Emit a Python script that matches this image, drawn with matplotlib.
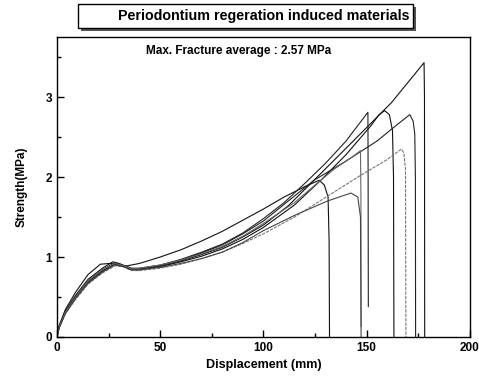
import matplotlib
matplotlib.use("Agg")
import matplotlib.pyplot as plt
from matplotlib.patches import Rectangle
from matplotlib.ticker import MultipleLocator

plt.rcParams['font.family'] = ['Liberation Sans', 'DejaVu Sans']

# ---- data ----
h_x = [0, 1, 4, 9, 15, 21, 26, 32, 40, 50, 60, 70, 80, 90, 100, 110, 120, 127, 129.5, 131.3, 131.8, 132]
h_y = [0, 0.14, 0.34, 0.56, 0.78, 0.91, 0.92, 0.88, 0.92, 1.00, 1.09, 1.20, 1.32, 1.46, 1.60, 1.75, 1.88, 1.96, 1.90, 1.75, 1.2, 0]

a_x = [0, 1, 4, 9, 15, 22, 27, 30, 35, 40, 50, 60, 70, 80, 90, 100, 112, 124.5, 140, 162, 177.8, 178, 178.1]
a_y = [0, 0.13, 0.32, 0.52, 0.72, 0.86, 0.94, 0.92, 0.85, 0.85, 0.89, 0.95, 1.03, 1.12, 1.25, 1.40, 1.64, 1.96, 2.36, 2.93, 3.43, 3.0, 0]

b_x = [0, 1, 4, 9, 15, 22, 28, 31, 36, 40, 50, 60, 70, 80, 90, 100, 110, 120, 130, 140, 150.6, 150.7, 150.8]
b_y = [0, 0.12, 0.31, 0.51, 0.70, 0.84, 0.93, 0.91, 0.86, 0.86, 0.90, 0.97, 1.06, 1.16, 1.30, 1.48, 1.68, 1.92, 2.17, 2.45, 2.81, 2.0, 0.38]

c_x = [0, 1, 4, 9, 15, 22, 28, 31, 36, 40, 50, 60, 70, 80, 90, 100, 115, 127.8, 140, 152, 156, 158.7, 161, 162.5, 163, 163.2]
c_y = [0, 0.12, 0.30, 0.50, 0.69, 0.83, 0.92, 0.90, 0.84, 0.84, 0.88, 0.94, 1.01, 1.10, 1.22, 1.37, 1.65, 1.96, 2.28, 2.64, 2.78, 2.83, 2.78, 2.58, 2.0, 0]

d_x = [0, 1, 4, 9, 15, 22, 28, 31, 36, 40, 50, 60, 70, 80, 90, 100, 112, 124.5, 140, 155, 165, 170.9, 172.5, 173.3, 173.6, 173.7]
d_y = [0, 0.12, 0.30, 0.49, 0.68, 0.82, 0.91, 0.90, 0.85, 0.85, 0.89, 0.96, 1.05, 1.15, 1.29, 1.45, 1.70, 1.96, 2.20, 2.45, 2.66, 2.78, 2.70, 2.54, 2.0, 0]

e_x = [0, 1, 4, 9, 15, 22, 28, 32, 36, 40, 50, 60, 70, 80, 90, 100, 115, 131, 147, 160, 166.8, 168, 168.8, 169]
e_y = [0, 0.11, 0.29, 0.47, 0.66, 0.80, 0.89, 0.88, 0.83, 0.83, 0.86, 0.91, 0.98, 1.06, 1.17, 1.29, 1.50, 1.76, 2.02, 2.22, 2.35, 2.30, 2.1, 0]

f_x = [0, 1, 4, 9, 15, 22, 28, 31, 36, 40, 50, 60, 70, 80, 90, 100, 115, 125, 134.3, 142.4, 147, 147.2, 147.3]
f_y = [0, 0.12, 0.31, 0.50, 0.70, 0.84, 0.92, 0.90, 0.85, 0.86, 0.90, 0.96, 1.04, 1.13, 1.26, 1.42, 1.68, 1.90, 2.10, 2.24, 2.33, 1.8, 0.13]

g_x = [0, 1, 4, 9, 15, 22, 28, 32, 36, 40, 50, 60, 70, 80, 90, 100, 115, 131, 142.4, 145.7, 147, 147.3]
g_y = [0, 0.11, 0.29, 0.48, 0.67, 0.81, 0.90, 0.88, 0.84, 0.84, 0.87, 0.92, 0.98, 1.06, 1.18, 1.33, 1.52, 1.70, 1.80, 1.75, 1.5, 0]

x_ticks = [0, 50, 100, 150, 200]
y_ticks = [0, 1, 2, 3]

title_text = "Periodontium regeration induced materials"
note_text = "Max. Fracture average : 2.57 MPa"

# ---- figure ----
fig = plt.figure(figsize=(4.79, 3.85), dpi=100)
ax = fig.add_axes([0.119, 0.1247, 0.862, 0.779])

series = [
    (h_x, h_y, '#111111', '-'),
    (a_x, a_y, '#111111', '-'),
    (b_x, b_y, '#222222', '-'),
    (c_x, c_y, '#111111', '-'),
    (d_x, d_y, '#222222', '-'),
    (e_x, e_y, '#777777', (0, (3, 1))),
    (f_x, f_y, '#666666', '-'),
    (g_x, g_y, '#444444', '-'),
]
for xs, ys, col, ls in series:
    ax.plot(xs, ys, color=col, lw=0.8, ls=ls)

ax.set_xlim(0, 200)
ax.set_ylim(0, 3.75)
ax.set_xticks(x_ticks)
ax.set_yticks(y_ticks)
ax.xaxis.set_minor_locator(MultipleLocator(25))
ax.yaxis.set_minor_locator(MultipleLocator(0.5))
ax.tick_params(which='both', direction='in', top=False, right=False, width=1)
ax.tick_params(which='major', length=5, labelsize=8.5)
ax.tick_params(which='minor', length=3)
for lab in ax.get_xticklabels() + ax.get_yticklabels():
    lab.set_fontweight('bold')
for sp in ax.spines.values():
    sp.set_linewidth(1.0)
    sp.set_color('black')

ax.set_xlabel("Displacement (mm)", fontsize=9, fontweight='bold', labelpad=4)
ax.set_ylabel("Strength(MPa)", fontsize=8.5, fontweight='bold', labelpad=13)

ax.text(0.44, 0.955, note_text, transform=ax.transAxes, ha='center', va='center',
        fontsize=8.5, fontweight='bold')

# title box with shadow
W, H = 479.0, 385.0
bx0, bx1, by0, by1 = 78, 413, 357, 381  # pixel coords from bottom
shadow = Rectangle(((bx0 + 3) / W, (by0 - 3) / H), (bx1 - bx0) / W, (by1 - by0) / H,
                   transform=fig.transFigure, facecolor='#555555', edgecolor='none', zorder=1)
box = Rectangle((bx0 / W, by0 / H), (bx1 - bx0) / W, (by1 - by0) / H,
                transform=fig.transFigure, facecolor='white', edgecolor='black', lw=1.0, zorder=2)
fig.patches.extend([shadow, box])
fig.text(264 / W, (by0 + by1) / 2 / H, title_text, ha='center', va='center',
         fontsize=10.3, fontweight='bold', zorder=3)

fig.savefig("out.png", dpi=100)
